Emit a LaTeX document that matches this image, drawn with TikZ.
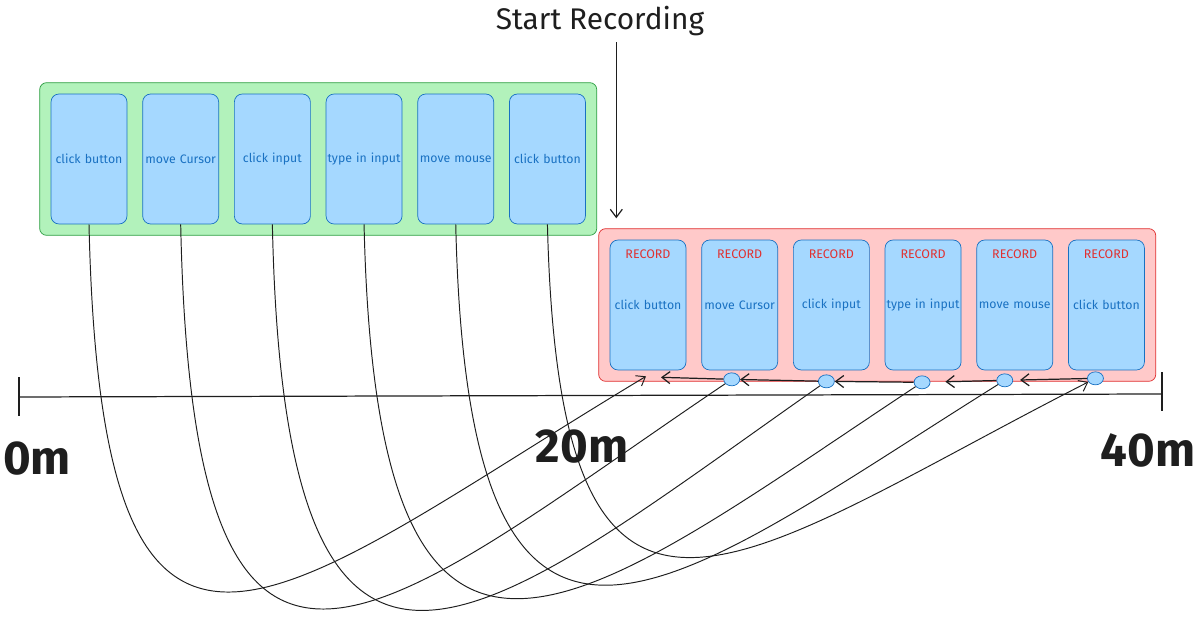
\documentclass[tikz,border=0pt]{standalone}
\usepackage{fontspec}
\setmainfont{Fira Sans}
\usepackage{xcolor}
\usepackage{tikz}
\usetikzlibrary{positioning, arrows.meta, shapes.geometric, fit, backgrounds}
\definecolor{actfill}{HTML}{A5D8FF}
\definecolor{actline}{HTML}{1971C2}
\definecolor{livefill}{HTML}{B2F2BB}
\definecolor{liveline}{HTML}{2F9E44}
\definecolor{recfill}{HTML}{FFC9C9}
\definecolor{recline}{HTML}{E03131}
\definecolor{ink}{HTML}{1E1E1E}
\tikzset{
    action/.style={rectangle, draw=actline, fill=actfill, rounded corners=0.16cm, text width=1.52cm, minimum width=1.52cm, minimum height=2.6cm, inner sep=0pt, align=center, text=actline, font=\fontsize{7}{9}\selectfont},
    tag/.style={font=\fontsize{7.1}{9}\selectfont, text=recline, inner sep=1pt},
    liveGroup/.style={rectangle, draw=liveline, fill=livefill, rounded corners=0.14cm, inner sep=0.22cm},
    recGroup/.style={rectangle, draw=recline, fill=recfill, rounded corners=0.14cm, inner sep=0.22cm},
    dot/.style={ellipse, draw=actline, fill=actfill, minimum width=0.32cm, minimum height=0.26cm, inner sep=0pt},
    arrow/.style={-{Straight Barb[length=1.6mm, width=2.4mm]}, line width=0.7pt, ink},
    replay/.style={line width=0.55pt, ink},
    distlabel/.style={font=\fontsize{27}{30}\selectfont\bfseries, text=ink},
}

\begin{document}
\begin{tikzpicture}[x=0.02cm, y=0.02cm]
    \useasboundingbox (0,0) rectangle (1200,-617);

    % Live actions
    \node[action] (g1) at (89,-159) {click button};
    \node[action, right=0.3cm of g1] (g2) {move Cursor};
    \node[action, right=0.3cm of g2] (g3) {click input};
    \node[action, right=0.3cm of g3] (g4) {type in input};
    \node[action, right=0.3cm of g4] (g5) {move mouse};
    \node[action, right=0.3cm of g5] (g6) {click button};

    % Recorded actions
    \node[action] (r1) at (648,-305) {click button};
    \node[action, right=0.3cm of r1] (r2) {move Cursor};
    \node[action, right=0.3cm of r2] (r3) {click input};
    \node[action, right=0.3cm of r3] (r4) {type in input};
    \node[action, right=0.3cm of r4] (r5) {move mouse};
    \node[action, right=0.3cm of r5] (r6) {click button};
    \node[tag, below=0.16cm of r1.north] (t1) {RECORD};
    \node[tag, below=0.16cm of r2.north] (t2) {RECORD};
    \node[tag, below=0.16cm of r3.north] (t3) {RECORD};
    \node[tag, below=0.16cm of r4.north] (t4) {RECORD};
    \node[tag, below=0.16cm of r5.north] (t5) {RECORD};
    \node[tag, below=0.16cm of r6.north] (t6) {RECORD};

    % Groups
    \begin{scope}[on background layer]
        \node[liveGroup, fit=(g1)(g6)] (liveGrp) {};
        \node[recGroup, fit=(r1)(r6)] (recGrp) {};
    \end{scope}

    % Start marker
    \node[font=\fontsize{17}{20}\selectfont, text=ink] (start) at (600,-21) {Start Recording};
    \coordinate (recpt) at ([xshift=0.36cm, yshift=0.2cm]recGrp.north west);
    \draw[arrow] (start.south -| recpt) -- (recpt);

    % Time axis
    \coordinate (ax0) at (19,-397);
    \coordinate (ax1) at (1162,-394);
    \draw[line width=0.7pt, ink] (ax0) -- (ax1);
    \draw[line width=0.7pt, ink] ([yshift=0.4cm]ax0) -- ([yshift=-0.38cm]ax0);
    \draw[line width=0.7pt, ink] ([yshift=0.44cm]ax1) -- ([yshift=-0.34cm]ax1);
    \node[distlabel] (m0) at (37,-459) {0m};
    \node[distlabel] (m20) at (582,-447) {20m};
    \node[distlabel] (m40) at (1148,-450) {40m};

    % Replay points
    \node[dot] (c2) at ([xshift=-0.16cm, yshift=-0.18cm]r2.south) {};
    \node[dot] (c3) at ([xshift=-0.1cm, yshift=-0.22cm]r3.south) {};
    \node[dot] (c4) at ([xshift=-0.02cm, yshift=-0.24cm]r4.south) {};
    \node[dot] (c5) at ([xshift=-0.2cm, yshift=-0.2cm]r5.south) {};
    \node[dot] (c6) at ([xshift=-0.22cm, yshift=-0.16cm]r6.south) {};
    \coordinate (r1in) at ([xshift=-0.04cm, yshift=-0.12cm]r1.south);
    \coordinate (r1out) at ([xshift=0.26cm, yshift=-0.14cm]r1.south);

    % Replay curves
    \draw[replay, -{Straight Barb[length=1.6mm, width=2.4mm]}] (g1.south) to[out=-88.7, in=211, out distance=11.1cm, in distance=8.65cm] (r1in);
    \draw[replay] (g2.south) to[out=-88.8, in=214, out distance=11.6cm, in distance=8.35cm] (c2);
    \draw[replay] (g3.south) to[out=-88.8, in=215, out distance=11.66cm, in distance=8.07cm] (c3);
    \draw[replay] (g4.south) to[out=-88.7, in=213.5, out distance=11.25cm, in distance=7.96cm] (c4);
    \draw[replay] (g5.south) to[out=-88.7, in=212, out distance=10.9cm, in distance=7.7cm] (c5);
    \draw[replay, -{Straight Barb[length=1.6mm, width=2.4mm]}] (g6.south) to[out=-88.6, in=207, out distance=10cm, in distance=7.87cm] (c6);

    % Playback order
    \draw[arrow, shorten >=0.14cm] (c6) -- (c5);
    \draw[arrow, shorten >=0.3cm] (c5) -- (c4);
    \draw[arrow] (c4) -- (c3);
    \draw[arrow] (c3) -- (c2);
    \draw[arrow] (c2) -- (r1out);
\end{tikzpicture}
\end{document}
